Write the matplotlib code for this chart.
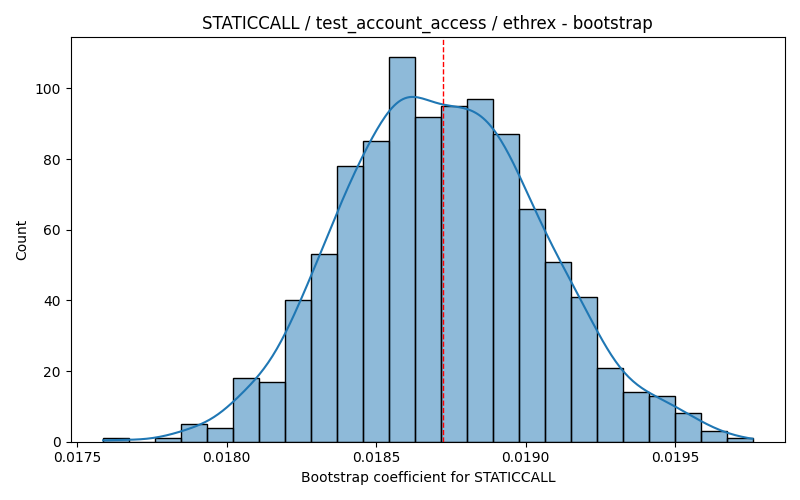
import matplotlib
matplotlib.use("Agg")
import matplotlib.pyplot as plt
from matplotlib.colors import to_rgba
import numpy as np

# bootstrap histogram, 25 bins
bin_lo = 0.017587
bin_hi = 0.019758
counts = [1, 0, 1, 5, 4, 18, 17, 40, 53, 78, 85, 109, 92,
          95, 97, 87, 66, 51, 41, 21, 14, 13, 8, 3, 1]
estimate = 0.018722

title = "STATICCALL / test_account_access / ethrex - bootstrap"
xlabel = "Bootstrap coefficient for STATICCALL"

edges = np.linspace(bin_lo, bin_hi, len(counts) + 1)
centers = (edges[:-1] + edges[1:]) / 2
counts = np.array(counts, dtype=float)
width = edges[1] - edges[0]

fig, ax = plt.subplots(figsize=(8, 5), dpi=100)

ax.hist(centers, bins=edges, weights=counts,
        facecolor=to_rgba("C0", 0.5), edgecolor="black", linewidth=1)

# gaussian kde on the binned counts, scott bandwidth, scaled to counts
n = counts.sum()
mean = np.sum(counts * centers) / n
std = np.sqrt(np.sum(counts * (centers - mean) ** 2) / n)
bw = std * n ** (-1 / 5)
xs = np.linspace(bin_lo, bin_hi, 300)
dens = np.zeros_like(xs)
for c, k in zip(centers, counts):
    dens += k * np.exp(-0.5 * ((xs - c) / bw) ** 2)
dens = dens / (bw * np.sqrt(2 * np.pi)) * width
ax.plot(xs, dens, color="C0", linewidth=1.5)

ax.axvline(estimate, color="red", linestyle="--", linewidth=1)

ax.set_title(title)
ax.set_xlabel(xlabel)
ax.set_ylabel("Count")

fig.tight_layout()
fig.savefig("out.png", dpi=100)
